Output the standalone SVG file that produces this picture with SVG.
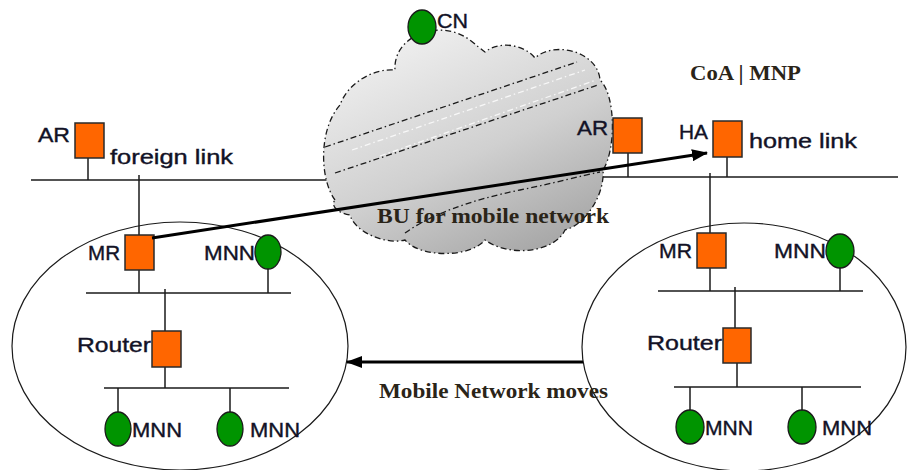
<svg xmlns="http://www.w3.org/2000/svg" width="909" height="470" viewBox="0 0 909 470">
  <defs>
    <linearGradient id="cloudFill" x1="0.2" y1="0" x2="0.8" y2="1">
      <stop offset="0" stop-color="#f2f2f2"/>
      <stop offset="0.55" stop-color="#d0d0d0"/>
      <stop offset="1" stop-color="#a4a4a4"/>
    </linearGradient>
    <marker id="head" viewBox="0 0 16 12" refX="15" refY="6" markerWidth="16" markerHeight="12" markerUnits="userSpaceOnUse" orient="auto">
      <path d="M0,0 L16,6 L0,12 Z" fill="#000"/>
    </marker>
  </defs>
  <style>
    .wire { stroke: #1a1a1a; stroke-width: 1.5; fill: none; }
    .arrow { stroke: #000; stroke-width: 3; fill: none; }
    .box { fill: #ff6600; stroke: #2a2a2a; stroke-width: 1.5; }
    .host { fill: #009400; stroke: #1a1a1a; stroke-width: 1.3; }
    .net { fill: none; stroke: #1a1a1a; stroke-width: 1.2; }
    .cloud { fill: url(#cloudFill); stroke: #1a1a1a; stroke-width: 1.3; stroke-dasharray: 6 3 1.5 3; }
    .stripe { fill: none; stroke: #1a1a1a; stroke-width: 1.3; stroke-dasharray: 6 3 1.5 3; }
    .stripe-w { fill: none; stroke: #ffffff; stroke-width: 1.3; stroke-dasharray: 6 3 1.5 3; opacity: 0.8; }
    .lbl { font-family: "Liberation Sans", Arial, sans-serif; font-size: 21px; fill: #121226; stroke: #121226; stroke-width: 0.4; }
    .ser { font-family: "Liberation Serif", "Times New Roman", serif; font-size: 22px; font-weight: bold; fill: #2a2418; }
  </style>

  <rect width="909" height="470" fill="#ffffff"/>

  <!-- mobile network boundaries -->
  <g id="mobile-network-foreign">
    <ellipse class="net" cx="180" cy="346" rx="168" ry="124"/>
  </g>
  <g id="mobile-network-home">
    <ellipse class="net" cx="744" cy="347" rx="162" ry="124"/>
  </g>

  <!-- links and wiring -->
  <g id="connectors">
    <!-- foreign link -->
    <line class="wire" x1="31" y1="180" x2="345" y2="180"/>
    <!-- home link -->
    <line class="wire" x1="595" y1="177" x2="898" y2="177"/>
    <!-- foreign side wiring -->
    <line class="wire" x1="88" y1="158" x2="88" y2="180"/>
    <line class="wire" x1="139" y1="175" x2="139" y2="235"/>
    <line class="wire" x1="139" y1="270" x2="139" y2="293"/>
    <line class="wire" x1="268" y1="269" x2="268" y2="293"/>
    <line class="wire" x1="86" y1="293" x2="291" y2="293"/>
    <line class="wire" x1="165" y1="289" x2="165" y2="331"/>
    <line class="wire" x1="165" y1="367" x2="165" y2="388"/>
    <line class="wire" x1="104" y1="388" x2="289" y2="388"/>
    <line class="wire" x1="118" y1="388" x2="118" y2="412"/>
    <line class="wire" x1="230" y1="388" x2="230" y2="412"/>
    <!-- home side wiring -->
    <line class="wire" x1="628" y1="153" x2="628" y2="177"/>
    <line class="wire" x1="727" y1="157" x2="727" y2="177"/>
    <line class="wire" x1="710" y1="173" x2="710" y2="233"/>
    <line class="wire" x1="710" y1="268" x2="710" y2="291"/>
    <line class="wire" x1="840" y1="268" x2="840" y2="291"/>
    <line class="wire" x1="658" y1="291" x2="863" y2="291"/>
    <line class="wire" x1="735" y1="287" x2="735" y2="328"/>
    <line class="wire" x1="737" y1="363" x2="737" y2="387"/>
    <line class="wire" x1="674" y1="387" x2="861" y2="387"/>
    <line class="wire" x1="690" y1="387" x2="690" y2="410"/>
    <line class="wire" x1="802" y1="387" x2="802" y2="410"/>
  </g>

  <!-- core network cloud -->
  <g id="internet">
    <path class="cloud" d="M335,200 C320,180 318,130 340,105 C348,82 375,68 395,70 C393,35 440,18 470,40 C476,45 481,49 485,52 C500,40 525,45 535,58 C555,40 598,52 600,80 C616,95 616,150 603,170 C605,195 585,225 565,230 C555,252 510,258 485,240 C470,258 420,258 405,240 C385,245 355,232 350,215 C338,213 330,206 335,200 Z"/>
    <line class="stripe" x1="325" y1="147" x2="577" y2="62"/>
    <line class="stripe" x1="335" y1="173" x2="598" y2="85"/>
    <line class="stripe-w" x1="352" y1="150" x2="585" y2="70"/>
    <line class="stripe-w" x1="380" y1="156" x2="596" y2="80"/>
    <path class="stripe" d="M405,233 C430,215 470,200 520,190 C555,183 580,176 600,172"/>
  </g>

  <!-- correspondent node -->
  <g id="cn">
    <ellipse class="host" cx="422" cy="27" rx="14" ry="17"/>
    <text class="lbl" x="437" y="28" textLength="31" lengthAdjust="spacingAndGlyphs">CN</text>
  </g>

  <!-- access router on the foreign link -->
  <g id="ar-foreign">
    <rect class="box" x="75" y="123" width="29" height="35"/>
    <text class="lbl" x="38" y="142" textLength="32" lengthAdjust="spacingAndGlyphs">AR</text>
  </g>
  <text class="lbl" x="110" y="164" textLength="123" lengthAdjust="spacingAndGlyphs">foreign link</text>

  <!-- access router inside the cloud edge -->
  <g id="ar-core">
    <rect class="box" x="613" y="118" width="29" height="35"/>
    <text class="lbl" x="577" y="135" textLength="31" lengthAdjust="spacingAndGlyphs">AR</text>
  </g>

  <!-- home agent -->
  <g id="ha">
    <rect class="box" x="713" y="121" width="29" height="36"/>
    <text class="lbl" x="679" y="139" textLength="29" lengthAdjust="spacingAndGlyphs">HA</text>
  </g>
  <text class="lbl" x="749" y="148" textLength="108" lengthAdjust="spacingAndGlyphs">home link</text>
  <text class="ser" x="690" y="80" textLength="111" lengthAdjust="spacingAndGlyphs">CoA | MNP</text>

  <!-- mobile network at the foreign link -->
  <g id="mr-foreign">
    <rect class="box" x="125" y="235" width="29" height="35"/>
    <text class="lbl" x="88" y="260" textLength="32" lengthAdjust="spacingAndGlyphs">MR</text>
  </g>
  <g id="mnn-foreign-1">
    <ellipse class="host" cx="268" cy="252" rx="13" ry="17"/>
    <text class="lbl" x="204" y="260" textLength="51" lengthAdjust="spacingAndGlyphs">MNN</text>
  </g>
  <g id="router-foreign">
    <rect class="box" x="152" y="331" width="29" height="36"/>
    <text class="lbl" x="77" y="352" textLength="74" lengthAdjust="spacingAndGlyphs">Router</text>
  </g>
  <g id="mnn-foreign-2">
    <ellipse class="host" cx="118" cy="429" rx="13" ry="17"/>
    <text class="lbl" x="132" y="437" textLength="50" lengthAdjust="spacingAndGlyphs">MNN</text>
  </g>
  <g id="mnn-foreign-3">
    <ellipse class="host" cx="230" cy="429" rx="13" ry="17"/>
    <text class="lbl" x="250" y="437" textLength="50" lengthAdjust="spacingAndGlyphs">MNN</text>
  </g>

  <!-- mobile network at the home link -->
  <g id="mr-home">
    <rect class="box" x="697" y="233" width="29" height="35"/>
    <text class="lbl" x="659" y="258" textLength="33" lengthAdjust="spacingAndGlyphs">MR</text>
  </g>
  <g id="mnn-home-1">
    <ellipse class="host" cx="840" cy="251" rx="14" ry="17"/>
    <text class="lbl" x="774" y="258" textLength="52" lengthAdjust="spacingAndGlyphs">MNN</text>
  </g>
  <g id="router-home">
    <rect class="box" x="723" y="328" width="28" height="35"/>
    <text class="lbl" x="647" y="350" textLength="75" lengthAdjust="spacingAndGlyphs">Router</text>
  </g>
  <g id="mnn-home-2">
    <ellipse class="host" cx="690" cy="427" rx="14" ry="17"/>
    <text class="lbl" x="705" y="435" textLength="48" lengthAdjust="spacingAndGlyphs">MNN</text>
  </g>
  <g id="mnn-home-3">
    <ellipse class="host" cx="802" cy="427" rx="14" ry="17"/>
    <text class="lbl" x="822" y="435" textLength="50" lengthAdjust="spacingAndGlyphs">MNN</text>
  </g>

  <!-- signalling and movement -->
  <g id="flows">
    <line class="arrow" x1="152" y1="238" x2="707" y2="153" marker-end="url(#head)"/>
    <text class="ser" x="377" y="223" textLength="232" lengthAdjust="spacingAndGlyphs">BU for mobile network</text>
    <line class="arrow" x1="583" y1="362" x2="347" y2="362" marker-end="url(#head)"/>
    <text class="ser" x="379" y="398" textLength="229" lengthAdjust="spacingAndGlyphs">Mobile Network moves</text>
  </g>
</svg>
